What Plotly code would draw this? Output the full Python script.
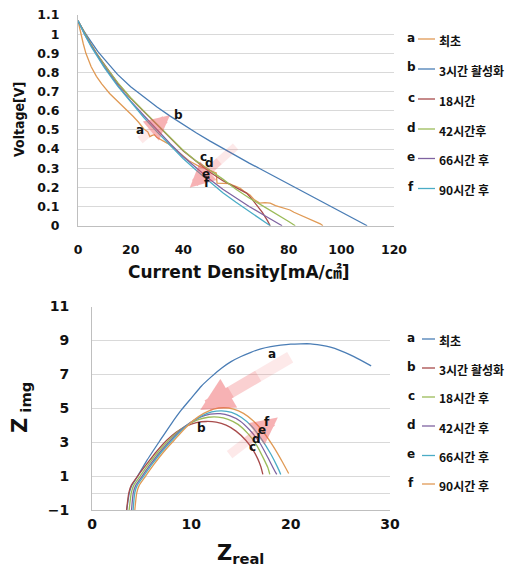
import plotly.graph_objects as go

W, H = 521, 569

# ---------------- top chart: polarization curves ----------------
pol_letters = ['a', 'b', 'c', 'd', 'e', 'f']
pol_names = ['최초', '3시간 활성화', '18시간', '42시간후', '66시간 후', '90시간 후']
pol_colors = ['#E09A55', '#4A7DB5', '#A84B4B', '#9BBB59', '#7F63A1', '#4BACC6']

a_current = [0, 1, 2, 3, 4, 5, 7, 9, 12, 15, 17, 19, 21, 23, 25, 26.5, 27.3, 28, 29, 30, 32, 34, 36, 38, 40,
             42, 44, 46, 48, 50, 52.5, 52.8, 55, 57.5, 59, 61.5, 63.5, 65.3, 67, 69, 71, 73, 75, 76.7, 78,
             80.5, 82, 84.3, 87, 89, 90.8, 92, 93]
a_voltage = [1.07, 1.0, 0.95, 0.9, 0.86, 0.83, 0.78, 0.74, 0.69, 0.65, 0.625, 0.6, 0.57, 0.54, 0.505, 0.49,
             0.465, 0.47, 0.475, 0.46, 0.445, 0.43, 0.41, 0.385, 0.36, 0.34, 0.325, 0.31, 0.3, 0.29, 0.275,
             0.222, 0.22, 0.22, 0.21, 0.197, 0.175, 0.16, 0.135, 0.118, 0.12, 0.118, 0.105, 0.097, 0.095,
             0.082, 0.07, 0.056, 0.04, 0.03, 0.02, 0.01, 0]

b_current = [0, 2.5, 5, 7.5, 10, 15, 20, 25, 30, 35, 40, 45, 50, 55, 60, 65, 70, 75, 80, 85, 90, 95, 100, 105, 109.8]
b_voltage = [1.07, 1.01, 0.96, 0.91, 0.87, 0.79, 0.725, 0.67, 0.62, 0.572, 0.527, 0.484, 0.443, 0.403, 0.364,
             0.327, 0.291, 0.254, 0.218, 0.181, 0.145, 0.108, 0.072, 0.035, 0]

c_current = [0, 2.5, 5, 7.5, 10, 15, 20, 25, 30, 35, 40, 45, 50, 55, 60, 64, 66, 68, 70, 72, 73]
c_voltage = [1.07, 1.005, 0.945, 0.89, 0.84, 0.745, 0.665, 0.595, 0.525, 0.455, 0.39, 0.335, 0.28, 0.235,
             0.2, 0.17, 0.14, 0.105, 0.07, 0.025, 0]

d_current = [0, 2.5, 5, 7.5, 10, 15, 20, 25, 30, 35, 40, 45, 50, 55, 60, 65, 70, 75, 80, 82.5]
d_voltage = [1.07, 1.005, 0.945, 0.89, 0.84, 0.748, 0.668, 0.598, 0.528, 0.458, 0.393, 0.337, 0.29, 0.243,
             0.19, 0.145, 0.105, 0.065, 0.022, 0]

e_current = [0, 2.5, 5, 7.5, 10, 15, 20, 25, 30, 35, 40, 45, 50, 55, 60, 65, 70, 75, 77.5]
e_voltage = [1.07, 1.0, 0.94, 0.885, 0.83, 0.735, 0.65, 0.575, 0.5, 0.428, 0.36, 0.3, 0.243, 0.19, 0.145,
             0.1, 0.06, 0.02, 0]

f_current = [0, 2.5, 5, 7.5, 10, 15, 20, 25, 30, 35, 40, 45, 50, 55, 60, 65, 70, 73]
f_voltage = [1.07, 0.998, 0.935, 0.878, 0.825, 0.73, 0.645, 0.565, 0.49, 0.418, 0.35, 0.288, 0.228, 0.172,
             0.122, 0.075, 0.03, 0]

pol_series = [(a_current, a_voltage), (b_current, b_voltage), (c_current, c_voltage),
              (d_current, d_voltage), (e_current, e_voltage), (f_current, f_voltage)]

# ---------------- bottom chart: Nyquist plots ----------------
eis_letters = ['a', 'b', 'c', 'd', 'e', 'f']
eis_names = ['최초', '3시간 활성화', '18시간 후', '42시간 후', '66시간 후', '90시간 후']
eis_colors = ['#4A7DB5', '#A84B4B', '#9BBB59', '#7F63A1', '#4BACC6', '#E09A55']

a_zreal = [3.5, 3.75, 4.0, 4.5, 5.5, 6.85, 8, 9, 10, 11, 12, 13, 14, 15, 16, 17, 18, 19, 20, 21, 22, 23, 24,
           25, 26, 27, 28.1]
a_zimg = [-1, 0, 0.45, 0.9, 1.9, 3.1, 4.1, 4.9, 5.6, 6.3, 6.85, 7.35, 7.75, 8.05, 8.3, 8.5, 8.63, 8.72,
          8.78, 8.8, 8.8, 8.72, 8.6, 8.4, 8.15, 7.85, 7.5]

b_zreal = [3.48, 3.7, 3.95, 4.6, 5.5, 6.5, 7.5, 8.5, 9.5, 10.5, 11.5, 12.5, 13.5, 14.5, 15.5, 16.2, 16.7,
           17.0, 17.2]
b_zimg = [-1, 0, 0.45, 1.0, 1.7, 2.45, 3.1, 3.6, 3.95, 4.15, 4.22, 4.18, 4.0, 3.65, 3.1, 2.55, 2.0, 1.55, 1.1]

c_zreal = [3.74, 3.95, 4.2, 4.85, 5.7, 6.7, 7.7, 8.7, 9.7, 10.7, 11.7, 12.7, 13.7, 14.7, 15.7, 16.6, 17.3,
           17.7, 17.9]
c_zimg = [-1, 0, 0.45, 1.0, 1.7, 2.45, 3.1, 3.65, 4.05, 4.33, 4.47, 4.48, 4.35, 4.05, 3.5, 2.8, 2.0, 1.5, 1.1]

d_zreal = [3.98, 4.15, 4.4, 5.05, 5.9, 6.9, 7.9, 8.9, 9.9, 10.9, 11.9, 12.9, 13.9, 14.9, 15.9, 16.9, 17.7,
           18.4, 18.6]
d_zimg = [-1, 0, 0.45, 1.0, 1.7, 2.45, 3.1, 3.7, 4.15, 4.48, 4.65, 4.68, 4.55, 4.25, 3.7, 2.95, 2.1, 1.3, 1.1]

e_zreal = [4.14, 4.3, 4.55, 5.2, 6.05, 7.05, 8.05, 9.05, 10.05, 11.05, 12.05, 13.05, 14.05, 15.05, 16.05,
           17.05, 18.0, 18.7, 19.0]
e_zimg = [-1, 0, 0.45, 1.0, 1.7, 2.45, 3.1, 3.72, 4.2, 4.55, 4.78, 4.85, 4.75, 4.45, 3.95, 3.2, 2.3, 1.5, 1.1]

f_zreal = [4.31, 4.5, 4.75, 5.4, 6.25, 7.25, 8.25, 9.25, 10.25, 11.25, 12.25, 13.25, 14.25, 15.25, 16.25,
           17.25, 18.25, 19.2, 19.8]
f_zimg = [-1, 0, 0.45, 1.0, 1.7, 2.45, 3.1, 3.75, 4.3, 4.7, 4.95, 5.03, 4.95, 4.7, 4.25, 3.6, 2.75, 1.8, 1.15]

eis_series = [(a_zreal, a_zimg), (b_zreal, b_zimg), (c_zreal, c_zimg),
              (d_zreal, d_zimg), (e_zreal, e_zimg), (f_zreal, f_zimg)]

# in-plot letter labels (data coords)
pol_label_pos = [(23.5, 0.50), (38.0, 0.577), (47.8, 0.358), (49.8, 0.327), (48.6, 0.272), (49.0, 0.222)]
eis_label_pos = [(18.1, 8.2), (11.05, 3.82), (16.2, 2.7), (16.6, 3.2), (17.1, 3.7), (17.6, 4.2)]

# arrows (tail -> head), data coords
pol_arrows = [((23.0, 0.44), (34.9, 0.577)), ((60.4, 0.42), (42.5, 0.20))]
eis_arrows = [((20.1, 8.06), (10.9, 4.9)), ((13.7, 2.2), (18.7, 4.45))]

FONT = "DejaVu Sans, Noto Sans CJK KR, sans-serif"
KFONT = "Noto Sans CJK KR, DejaVu Sans, sans-serif"
GRID = '#D9D9D9'
AXL = '#BFBFBF'


def px_x(p):
    return p / W


def px_y(p):
    return 1 - p / H


fig = go.Figure()

for (xs, ys), col, nm in zip(pol_series, pol_colors, pol_names):
    fig.add_trace(go.Scatter(x=xs, y=ys, mode='lines', name=nm, line=dict(color=col, width=1.3),
                             xaxis='x', yaxis='y', showlegend=False))
for (xs, ys), col, nm in zip(eis_series, eis_colors, eis_names):
    fig.add_trace(go.Scatter(x=xs, y=ys, mode='lines', name=nm,
                             line=dict(color=col, width=1.3, shape='spline', smoothing=0.5),
                             xaxis='x2', yaxis='y2', showlegend=False))

annotations = []
shapes = []


def add_arrow(tail, head, xr, yr, width, size):
    # stacked translucent arrows sharing one head -> fades toward the tail
    for frac, alpha in [(0.0, 0.13), (0.35, 0.17), (0.65, 0.25)]:
        tx = tail[0] + (head[0] - tail[0]) * frac
        ty = tail[1] + (head[1] - tail[1]) * frac
        annotations.append(dict(x=head[0], y=head[1], ax=tx, ay=ty, xref=xr, yref=yr, axref=xr, ayref=yr,
                                text='', showarrow=True, arrowhead=2, arrowsize=size, arrowwidth=width,
                                arrowcolor='rgba(240,90,95,%.2f)' % alpha))


for t, h in pol_arrows:
    add_arrow(t, h, 'x', 'y', 8, 0.62)
for i, (t, h) in enumerate(eis_arrows):
    add_arrow(t, h, 'x2', 'y2', 12 if i == 0 else 9, 0.55 if i == 0 else 0.6)

for (lx, ly), lt in zip(pol_label_pos, pol_letters):
    annotations.append(dict(x=lx, y=ly, xref='x', yref='y', text='<b>%s</b>' % lt, showarrow=False,
                            xanchor='center', yanchor='middle',
                            font=dict(family=FONT, size=12, color='#111')))
for (lx, ly), lt in zip(eis_label_pos, eis_letters):
    annotations.append(dict(x=lx, y=ly, xref='x2', yref='y2', text='<b>%s</b>' % lt, showarrow=False,
                            xanchor='center', yanchor='middle',
                            font=dict(family=FONT, size=12, color='#111')))

# manual legends
top_rows = [39, 69, 99, 129, 158.5, 188.5]
bot_rows = [339, 368, 397, 426, 455.5, 484]
for rows, letters, names, colors, lx0 in [(top_rows, pol_letters, pol_names, pol_colors, 418),
                                          (bot_rows, eis_letters, eis_names, eis_colors, 422)]:
    for ry, lt, nm, col in zip(rows, letters, names, colors):
        annotations.append(dict(x=px_x(411), y=px_y(ry - 1.5), xref='paper', yref='paper',
                                text='<b>%s</b>' % lt, showarrow=False, xanchor='center', yanchor='middle',
                                font=dict(family=FONT, size=12, color='#111')))
        shapes.append(dict(type='line', xref='paper', yref='paper', x0=px_x(lx0), x1=px_x(435),
                           y0=px_y(ry), y1=px_y(ry), line=dict(color=col, width=1.3)))
        annotations.append(dict(x=px_x(437), y=px_y(ry + 1), xref='paper', yref='paper',
                                text='<b>%s</b>' % nm, showarrow=False, xanchor='left', yanchor='middle',
                                font=dict(family=KFONT, size=12, color='#111')))

# axis titles
annotations += [
    dict(x=px_x(239), y=px_y(272), xref='paper', yref='paper', showarrow=False,
         xanchor='center', yanchor='middle',
         text='<b>Current Density[mA/㎠]</b>', font=dict(family=FONT, size=17, color='#111')),
    dict(x=px_x(19), y=px_y(120), xref='paper', yref='paper', showarrow=False, textangle=-90,
         xanchor='center', yanchor='middle',
         text='<b>Voltage[V]</b>', font=dict(family="DejaVu Sans Condensed, DejaVu Sans, sans-serif",
                                               size=14, color='#111')),
    dict(x=px_x(240), y=px_y(554), xref='paper', yref='paper', showarrow=False,
         xanchor='center', yanchor='middle',
         text='<b>Z<sub>real</sub></b>', font=dict(family=FONT, size=21, color='#111')),
    dict(x=px_x(21), y=px_y(408), xref='paper', yref='paper', showarrow=False, textangle=-90,
         xanchor='center', yanchor='middle',
         text='<b>Z<sub> img</sub></b>', font=dict(family=FONT, size=21, color='#111')),
]

tick_font = dict(family=FONT, size=12.5, color='#111', weight='bold')
tick_font2 = dict(family=FONT, size=14, color='#111', weight='bold')

fig.update_layout(
    template='none',
    width=W, height=H, margin=dict(l=0, r=0, t=0, b=0, autoexpand=False),
    paper_bgcolor='white', plot_bgcolor='white', showlegend=False,
    xaxis=dict(domain=[px_x(78), px_x(394)], anchor='y', range=[0, 120], dtick=20, tick0=0,
               showgrid=False, zeroline=False, showline=True, linecolor=AXL, linewidth=1, automargin=False,
               ticks='', tickfont=tick_font, ticklabelstandoff=12, fixedrange=True),
    yaxis=dict(domain=[px_y(225.7), px_y(15)], anchor='x', range=[0, 1.1], dtick=0.1, tick0=0,
               showgrid=True, gridcolor=GRID, gridwidth=1, zeroline=False, showline=True, automargin=False,
               linecolor=AXL, linewidth=1, ticks='', tickfont=tick_font, ticklabelstandoff=15,
               fixedrange=True),
    xaxis2=dict(domain=[px_x(92), px_x(390)], anchor='y2', range=[0, 30], dtick=10, tick0=0,
                showgrid=False, zeroline=False, showline=True, linecolor=AXL, linewidth=1, automargin=False,
                ticks='', tickfont=tick_font2, ticklabelstandoff=1, fixedrange=True),
    yaxis2=dict(domain=[px_y(510), px_y(306.5)], anchor='x2', range=[-1, 11], dtick=2, tick0=-1,
                showgrid=True, gridcolor=GRID, gridwidth=1, zeroline=True, zerolinecolor=GRID,
                zerolinewidth=1, showline=True, linecolor=AXL, linewidth=1, ticks='', automargin=False,
                tickfont=tick_font2, ticklabelstandoff=19, fixedrange=True),
    annotations=annotations, shapes=shapes,
)

fig.write_html("out.html", config={'displayModeBar': False},
               post_script="document.body.style.margin='0';")
